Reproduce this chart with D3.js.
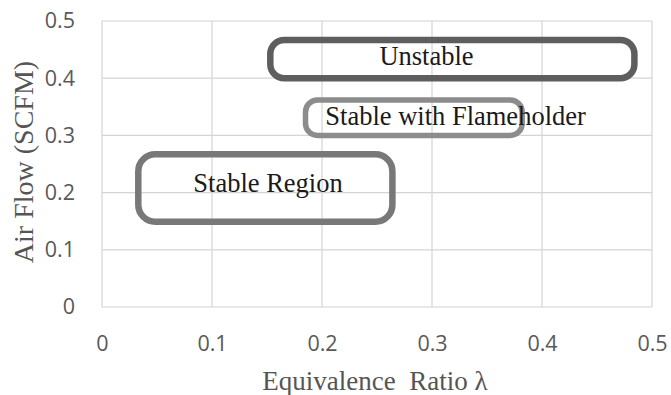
<!DOCTYPE html>
<html>
<head>
<meta charset="utf-8">
<script src="https://cdn.jsdelivr.net/npm/d3@7"></script>
<style>
  body { margin: 0; background: #fff; }
  svg { display: block; }
</style>
</head>
<body>
<div id="chart"></div>
<script>
// ── Data ─────────────────────────────────────────────────────────────
const xTicks = [0, 0.1, 0.2, 0.3, 0.4, 0.5];
const yTicks = [0, 0.1, 0.2, 0.3, 0.4, 0.5];

// regions drawn as rounded boxes: [x0, x1, y0, y1] in data units
const regionNames = ['Unstable', 'Stable with Flameholder', 'Stable Region'];
const regionBoxes = [
  [0.153, 0.484, 0.400, 0.467],
  [0.185, 0.382, 0.300, 0.362],
  [0.033, 0.264, 0.149, 0.267]
];
// label anchor points (data units)
const labelPos = [
  [0.295, 0.423],
  [0.203, 0.318],
  [0.083, 0.201]
];
const labelAnchor = ['middle', 'start', 'start'];

// ── Layout ───────────────────────────────────────────────────────────
const W = 671, H = 395;
const m = { left: 102, right: 19, top: 21, bottom: 88 };

const svg = d3.select('#chart').append('svg')
  .attr('width', W).attr('height', H);

const x = d3.scaleLinear().domain([0, 0.5]).range([m.left, W - m.right]);
const y = d3.scaleLinear().domain([0, 0.5]).range([H - m.bottom, m.top]);

// gridlines
svg.append('g')
  .selectAll('line')
  .data(xTicks)
  .join('line')
    .attr('x1', d => x(d)).attr('x2', d => x(d))
    .attr('y1', y(0)).attr('y2', y(0.5))
    .attr('stroke', '#d4d4d4').attr('stroke-width', 1.2);

svg.append('g')
  .selectAll('line')
  .data(yTicks)
  .join('line')
    .attr('x1', x(0)).attr('x2', x(0.5))
    .attr('y1', d => y(d)).attr('y2', d => y(d))
    .attr('stroke', '#d4d4d4').attr('stroke-width', 1.2);

// ── Axes (labels only, Excel style) ──────────────────────────────────
const fmt = d => d === 0 ? '0' : d3.format('.1f')(d);

const xAxis = svg.append('g')
  .attr('transform', `translate(0,${y(0) + 26})`)
  .call(d3.axisBottom(x).tickValues(xTicks).tickFormat(fmt).tickSize(0));
const yAxis = svg.append('g')
  .attr('transform', `translate(${x(0) - 24},0)`)
  .call(d3.axisLeft(y).tickValues(yTicks).tickFormat(fmt).tickSize(0));

[xAxis, yAxis].forEach(a => {
  a.select('.domain').remove();
  a.selectAll('text')
    .attr('font-family', '"Open Sans", sans-serif')
    .attr('font-size', 21.5)
    .attr('fill', '#595959');
});

// axis titles
svg.append('text')
  .attr('x', 375)
  .attr('y', 390)
  .attr('text-anchor', 'middle')
  .attr('font-family', '"Liberation Serif", serif')
  .attr('font-size', 27)
  .attr('fill', '#555')
  .attr('xml:space', 'preserve')
  .text('Equivalence  Ratio λ');

svg.append('text')
  .attr('transform', `translate(33,162) rotate(-90)`)
  .attr('text-anchor', 'middle')
  .attr('font-family', '"Liberation Serif", serif')
  .attr('font-size', 28)
  .attr('fill', '#555')
  .text('Air Flow (SCFM)');

// ── Region boxes ─────────────────────────────────────────────────────
const strokeCol = ['#5e5e5e', '#8c8c8c', '#787878'];
const strokeW = [6.5, 5.5, 6.5];
const radius = [14, 12, 17];

svg.append('g')
  .selectAll('rect')
  .data(regionBoxes)
  .join('rect')
    .attr('x', d => x(d[0]))
    .attr('y', d => y(d[3]))
    .attr('width', d => x(d[1]) - x(d[0]))
    .attr('height', d => y(d[2]) - y(d[3]))
    .attr('rx', (d, i) => radius[i])
    .attr('fill', 'none')
    .attr('stroke', (d, i) => strokeCol[i])
    .attr('stroke-width', (d, i) => strokeW[i]);

svg.append('g')
  .selectAll('text')
  .data(regionNames)
  .join('text')
    .attr('x', (d, i) => x(labelPos[i][0]))
    .attr('y', (d, i) => y(labelPos[i][1]))
    .attr('text-anchor', (d, i) => labelAnchor[i])
    .attr('font-family', '"Liberation Serif", serif')
    .attr('font-size', 26.5)
    .attr('fill', '#1a1a1a')
    .text(d => d);
</script>
</body>
</html>
